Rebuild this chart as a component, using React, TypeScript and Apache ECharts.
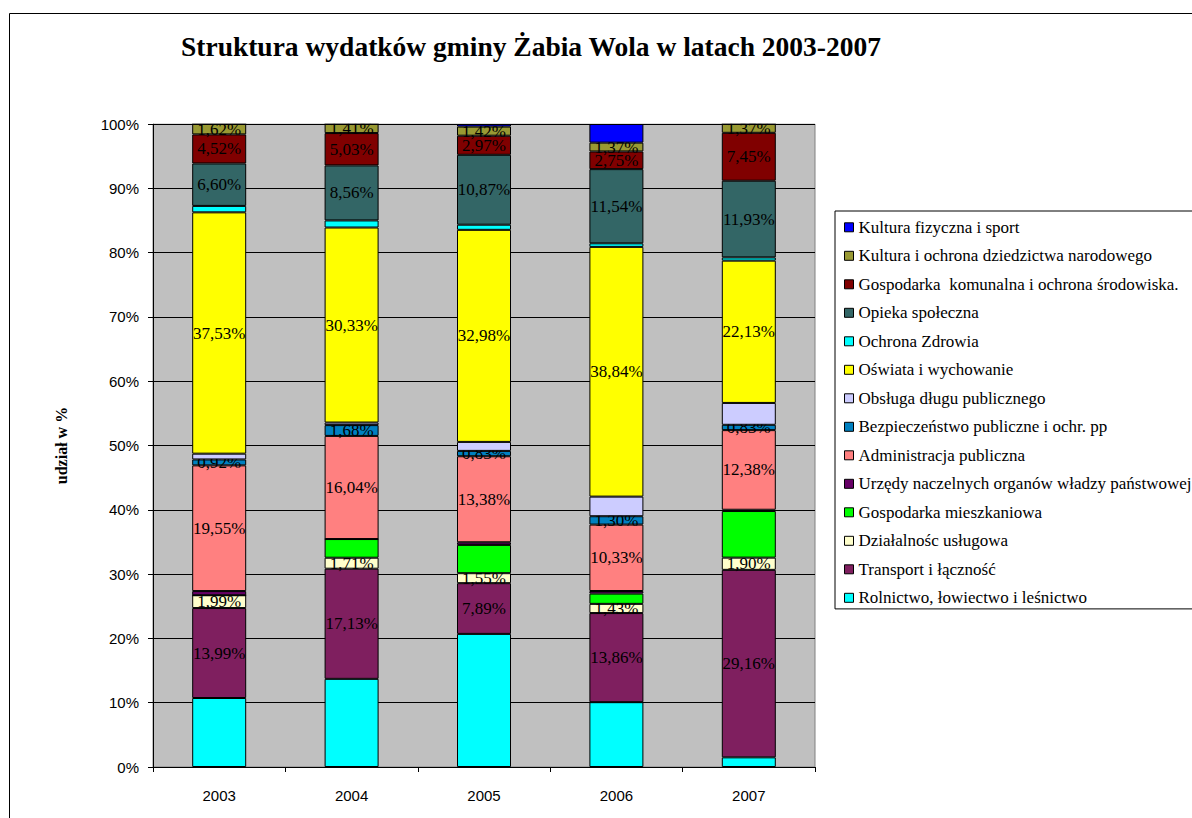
import React, { useEffect, useRef } from "react";
import * as echarts from "echarts";

const years = ["2003", "2004", "2005", "2006", "2007"];

const rolnictwo = [10.73, 13.71, 20.7, 10.08, 1.5];
const transport = [13.99, 17.13, 7.89, 13.86, 29.16];
const dzialalnosc = [1.99, 1.71, 1.55, 1.43, 1.9];
const mieszkaniowa = [0, 2.9, 4.4, 1.6, 7.25];
const urzedy = [0.65, 0, 0.41, 0.4, 0.2];
const administracja = [19.55, 16.04, 13.38, 10.33, 12.38];
const bezpieczenstwo = [0.92, 1.68, 0.83, 1.3, 0.83];
const obsluga = [0.9, 0.4, 1.4, 3.05, 3.4];
const oswiata = [37.53, 30.33, 32.98, 38.84, 22.13];
const zdrowie = [1.0, 1.1, 0.8, 0.55, 0.5];
const opieka = [6.6, 8.56, 10.87, 11.54, 11.93];
const komunalna = [4.52, 5.03, 2.97, 2.75, 7.45];
const kultura = [1.62, 1.41, 1.42, 1.37, 1.37];
const sport = [0, 0, 0.4, 2.9, 0];

const yTicks = { min: 0, max: 100, interval: 10 };

// bottom to top
const seriesDefs = [
  { name: "Rolnictwo, łowiectwo i leśnictwo", data: rolnictwo, color: "#00FFFF", label: false },
  { name: "Transport i łączność", data: transport, color: "#7F1F5F", label: true },
  { name: "Działalnośc usługowa", data: dzialalnosc, color: "#FFFFCC", label: true },
  { name: "Gospodarka mieszkaniowa", data: mieszkaniowa, color: "#00FF00", label: false },
  { name: "Urzędy naczelnych organów władzy państwowej", data: urzedy, color: "#660066", label: false },
  { name: "Administracja publiczna", data: administracja, color: "#FF8080", label: true },
  { name: "Bezpieczeństwo publiczne i ochr. pp", data: bezpieczenstwo, color: "#0080C0", label: true },
  { name: "Obsługa długu publicznego", data: obsluga, color: "#CCCCFF", label: false },
  { name: "Oświata i wychowanie", data: oswiata, color: "#FFFF00", label: true },
  { name: "Ochrona Zdrowia", data: zdrowie, color: "#00FFFF", label: false },
  { name: "Opieka społeczna", data: opieka, color: "#336666", label: true },
  { name: "Gospodarka  komunalna i ochrona środowiska.", data: komunalna, color: "#800000", label: true },
  { name: "Kultura i ochrona dziedzictwa narodowego", data: kultura, color: "#999933", label: true },
  { name: "Kultura fizyczna i sport", data: sport, color: "#0000FF", label: false },
];

const SERIF = "'Liberation Serif', 'Times New Roman', serif";
const SANS = "'Liberation Sans', Arial, sans-serif";

export default function App() {
  const ref = useRef<HTMLDivElement>(null);
  useEffect(() => {
    if (!ref.current) return;
    const chart = echarts.init(ref.current, null, { renderer: "svg" });
    const series = seriesDefs.map((s, i) => ({
      name: s.name,
      type: "bar",
      stack: "total",
      data: s.data,
      barWidth: 54,
      z: 10 + i,
      itemStyle: { color: s.color, borderColor: "#000", borderWidth: 1 },
      label: {
        show: s.label,
        position: "inside",
        color: "#000",
        fontFamily: SERIF,
        fontSize: 17,
        formatter: (p: any) => p.value.toFixed(2).replace(".", ",") + "%",
      },
      emphasis: { disabled: true },
    }));
    const option: any = {
      animation: false,
      backgroundColor: "#fff",
      textStyle: { fontFamily: SERIF },
      grid: {
        left: 153,
        right: 377,
        top: 124,
        bottom: 51,
        show: true,
        backgroundColor: "#C0C0C0",
        borderColor: "#808080",
        borderWidth: 1,
      },
      xAxis: {
        type: "category",
        data: years,
        axisLine: { lineStyle: { color: "#000", width: 1 } },
        axisTick: { show: true, length: 5, lineStyle: { color: "#000" } },
        axisLabel: { color: "#000", fontFamily: SANS, fontSize: 15, margin: 21 },
      },
      yAxis: {
        type: "value",
        ...yTicks,
        axisLine: { show: true, lineStyle: { color: "#000", width: 1 } },
        axisTick: { show: true, length: 5, lineStyle: { color: "#000" } },
        axisLabel: { color: "#000", fontFamily: SANS, fontSize: 15, margin: 14, formatter: "{value}%" },
        splitLine: { show: true, lineStyle: { color: "#000", width: 1 } },
        name: "udział w %",
        nameLocation: "middle",
        nameRotate: 90,
        nameGap: 84,
        nameTextStyle: { color: "#000", fontFamily: SERIF, fontWeight: "bold", fontSize: 16 },
      },
      legend: {
        orient: "vertical",
        left: 835,
        top: 211,
        padding: [7.8, 40, 2.6, 9],
        borderColor: "#000",
        borderWidth: 1,
        backgroundColor: "#fff",
        icon: "rect",
        itemWidth: 9,
        itemHeight: 9,
        itemGap: 11.5,
        itemStyle: { borderColor: "#000", borderWidth: 1 },
        textStyle: { color: "#000", fontFamily: SERIF, fontSize: 17, lineHeight: 16 },
        data: seriesDefs.map((s) => s.name).reverse(),
        selectedMode: false,
      },
      graphic: [
        {
          type: "rect",
          z: 100,
          silent: true,
          shape: { x: 150, y: 95, width: 670, height: 28.5 },
          style: { fill: "#fff" },
        },
        {
          type: "rect",
          z: 101,
          silent: true,
          shape: { x: 9.5, y: 13.5, width: 1400, height: 1000 },
          style: { fill: "none", stroke: "#000", lineWidth: 1 },
        },
        {
          type: "text",
          z: 101,
          x: 531,
          y: 46,
          style: {
            text: "Struktura wydatków gminy Żabia Wola w latach 2003-2007",
            fill: "#000",
            font: `bold 27.5px ${SERIF}`,
            textAlign: "center",
            textVerticalAlign: "middle",
          },
        },
      ],
      series,
    };
    chart.setOption(option);
    return () => chart.dispose();
  }, []);
  return (
    <div
      ref={ref}
      style={{ position: "fixed", left: 0, top: 0, width: 1192, height: 818 }}
    />
  );
}
